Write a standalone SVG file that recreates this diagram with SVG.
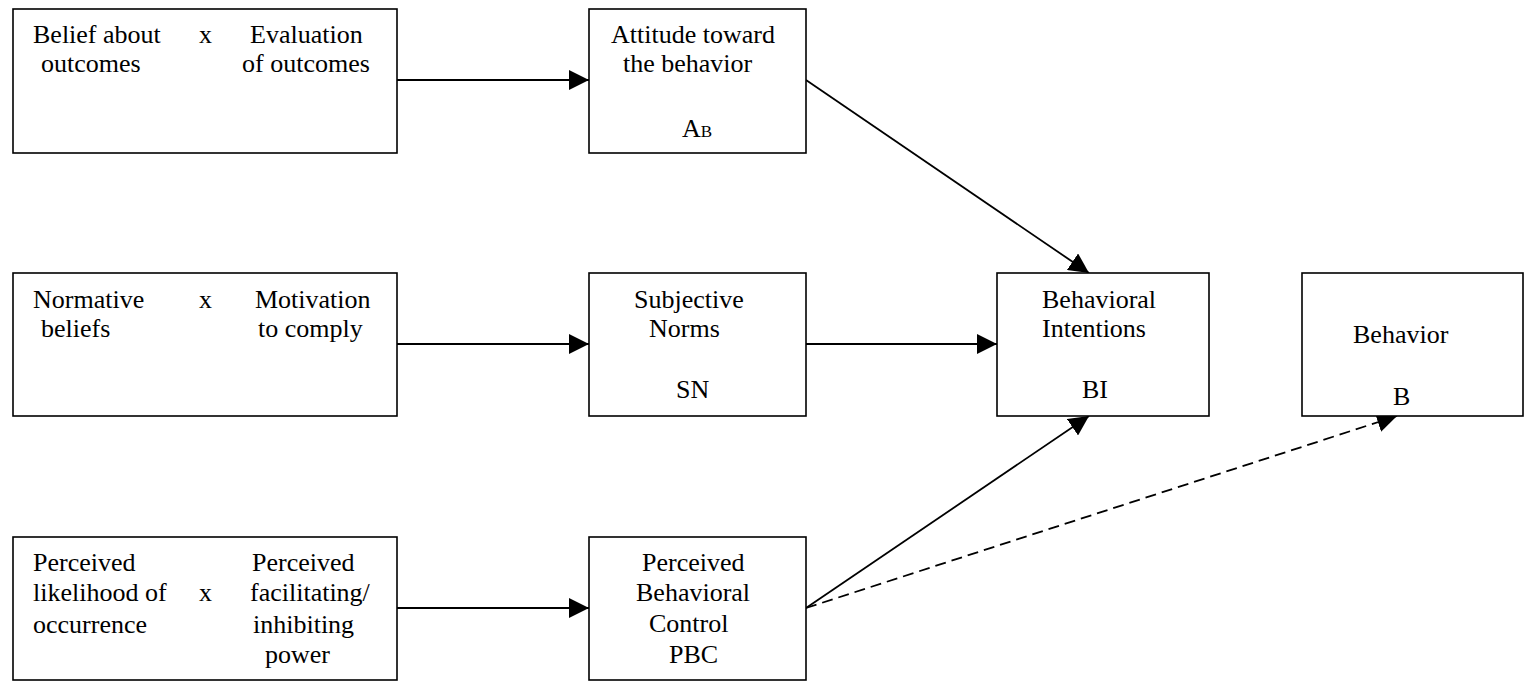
<svg xmlns="http://www.w3.org/2000/svg" width="1525" height="681" viewBox="0 0 1525 681">
<style>
.box{fill:#fff;stroke:#000;stroke-width:1.6}
text{font-family:"Liberation Serif","Times New Roman",serif;font-size:26px;fill:#000}
.sub{font-size:17px}
.conn{fill:none;stroke:#000;stroke-width:1.8}
.dash{stroke-dasharray:11,6}
</style>
<defs>
<marker id="ah" markerUnits="userSpaceOnUse" markerWidth="20" markerHeight="20" refX="20" refY="10" orient="auto">
<path d="M0,0 L20,10 L0,20 z" fill="#000"/>
</marker>
</defs>
<rect width="1525" height="681" fill="#fff"/>
<g id="connectors">
<line class="conn" x1="397" y1="80" x2="589" y2="80" marker-end="url(#ah)"/>
<line class="conn" x1="397" y1="344" x2="589" y2="344" marker-end="url(#ah)"/>
<line class="conn" x1="397" y1="608" x2="589" y2="608" marker-end="url(#ah)"/>
<line class="conn" x1="806" y1="80" x2="1089" y2="273" marker-end="url(#ah)"/>
<line class="conn" x1="806" y1="344" x2="997" y2="344" marker-end="url(#ah)"/>
<line class="conn" x1="806" y1="608" x2="1089" y2="416" marker-end="url(#ah)"/>
<line class="conn dash" x1="806" y1="608" x2="1397" y2="416" marker-end="url(#ah)"/>
</g>
<g id="beliefOutcomes">
<rect class="box" x="13" y="9" width="384" height="144"/>
<text x="33" y="43">Belief about</text>
<text x="41" y="72">outcomes</text>
<text x="199" y="43">x</text>
<text x="250" y="43">Evaluation</text>
<text x="242" y="72">of outcomes</text>
</g>
<g id="attitude">
<rect class="box" x="589" y="9" width="217" height="144"/>
<text x="611" y="43">Attitude toward</text>
<text x="623" y="72">the behavior</text>
<text x="682" y="137">A<tspan class="sub">B</tspan></text>
</g>
<g id="normativeBeliefs">
<rect class="box" x="13" y="273" width="384" height="143"/>
<text x="33" y="308">Normative</text>
<text x="41" y="337">beliefs</text>
<text x="199" y="308">x</text>
<text x="255" y="308">Motivation</text>
<text x="258" y="337">to comply</text>
</g>
<g id="subjectiveNorms">
<rect class="box" x="589" y="273" width="217" height="143"/>
<text x="634" y="308">Subjective</text>
<text x="649" y="337">Norms</text>
<text x="676" y="398">SN</text>
</g>
<g id="behavioralIntentions">
<rect class="box" x="997" y="273" width="212" height="143"/>
<text x="1042" y="308">Behavioral</text>
<text x="1042" y="337">Intentions</text>
<text x="1082" y="398">BI</text>
</g>
<g id="behavior">
<rect class="box" x="1302" y="273" width="221" height="143"/>
<text x="1353" y="343">Behavior</text>
<text x="1393" y="405">B</text>
</g>
<g id="perceivedLikelihood">
<rect class="box" x="13" y="537" width="384" height="143"/>
<text x="33" y="571">Perceived</text>
<text x="33" y="601">likelihood of</text>
<text x="33" y="633">occurrence</text>
<text x="199" y="601">x</text>
<text x="252" y="571">Perceived</text>
<text x="250" y="601">facilitating/</text>
<text x="253" y="633">inhibiting</text>
<text x="265" y="663">power</text>
</g>
<g id="pbc">
<rect class="box" x="589" y="537" width="217" height="143"/>
<text x="642" y="571">Perceived</text>
<text x="636" y="601">Behavioral</text>
<text x="649" y="632">Control</text>
<text x="669" y="663">PBC</text>
</g>
</svg>
